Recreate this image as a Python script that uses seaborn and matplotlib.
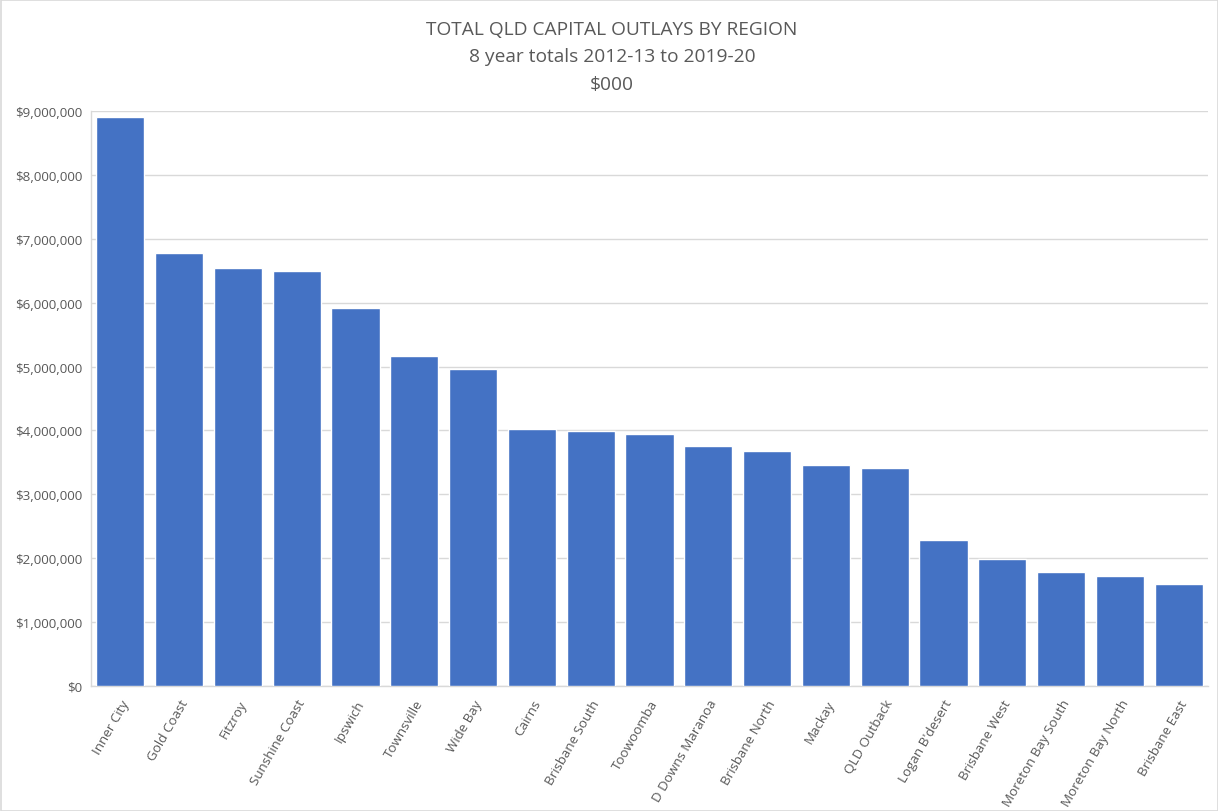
import matplotlib
matplotlib.use("Agg")
import matplotlib.pyplot as plt
from matplotlib.patches import Rectangle
from matplotlib.ticker import FuncFormatter, MultipleLocator
import seaborn as sns
import pandas as pd

regions = [
    "Inner City", "Gold Coast", "Fitzroy", "Sunshine Coast", "Ipswich",
    "Townsville", "Wide Bay", "Cairns", "Brisbane South", "Toowoomba",
    "D Downs Maranoa", "Brisbane North", "Mackay", "QLD Outback",
    "Logan B'desert", "Brisbane West", "Moreton Bay South",
    "Moreton Bay North", "Brisbane East",
]
outlays = [
    8900000, 6770000, 6550000, 6500000, 5920000,
    5170000, 4960000, 4020000, 3995000, 3950000,
    3750000, 3680000, 3460000, 3420000,
    2280000, 1995000, 1790000,
    1720000, 1590000,
]
title_lines = [
    "TOTAL QLD CAPITAL OUTLAYS BY REGION",
    "8 year totals 2012-13 to 2019-20",
    "$000",
]

df = pd.DataFrame({"region": regions, "outlay": outlays})

sns.set_theme(style="white")
plt.rcParams["font.family"] = ["Open Sans", "DejaVu Sans"]

text_col = "#595959"
grid_col = "#d9d9d9"

fig = plt.figure(figsize=(12.18, 8.12), dpi=100)
ax = fig.add_axes([91 / 1218, (812 - 687) / 812, (1208 - 91) / 1218, (687 - 112) / 812])

sns.barplot(data=df, x="region", y="outlay", color="#4472C4", width=0.82,
            saturation=1, ax=ax, zorder=3)

ax.set_xlim(-0.5, len(regions) - 0.5)
ax.set_ylim(0, 9000000)
ax.yaxis.set_major_locator(MultipleLocator(1000000))
ax.yaxis.set_major_formatter(FuncFormatter(lambda v, p: f"${v:,.0f}"))
ax.grid(axis="y", color=grid_col, linewidth=1, zorder=0)
ax.set_axisbelow(True)
ax.set_xlabel("")
ax.set_ylabel("")

for side in ["top", "right"]:
    ax.spines[side].set_visible(False)
ax.spines["left"].set_color(grid_col)
ax.spines["bottom"].set_color(grid_col)
ax.spines["left"].set_linewidth(1)
ax.spines["bottom"].set_linewidth(1)

ax.tick_params(axis="both", length=0, colors=text_col, labelsize=9.6)
ax.tick_params(axis="y", pad=6)
ax.tick_params(axis="x", pad=8)
for lbl in ax.get_xticklabels():
    lbl.set_rotation(60)
    lbl.set_ha("right")
    lbl.set_rotation_mode("anchor")

for i, line in enumerate(title_lines):
    fig.text(612 / 1218, 1 - (30 + 27.5 * i) / 812, line, ha="center", va="center",
             fontsize=13.8, color=text_col)

# light border around the whole chart area
fig.patches.append(Rectangle((0.5 / 1218, 0.5 / 812), 1 - 1 / 1218, 1 - 1 / 812,
                             transform=fig.transFigure, fill=False,
                             edgecolor=grid_col, linewidth=1.2))

fig.savefig("out.png", dpi=100)
